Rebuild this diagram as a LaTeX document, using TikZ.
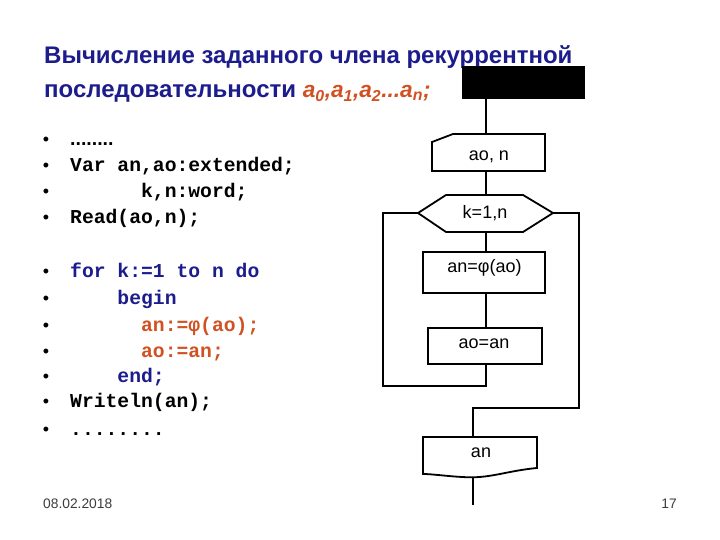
\documentclass[tikz,border=0pt]{standalone}
\usepackage{fontspec}
\setmainfont{Liberation Sans}
\newfontfamily\monof{Liberation Mono}
\definecolor{navy}{RGB}{28,28,140}
\definecolor{orng}{RGB}{208,82,34}
\definecolor{foot}{RGB}{60,60,60}
\begin{document}
\begin{tikzpicture}[x=1pt,y=-1pt,
  flow/.style={line width=1.8pt,draw=black,line join=miter},
  title/.style={anchor=base west,inner sep=0pt,font=\fontsize{24}{24}\selectfont\bfseries,text=navy},
  code/.style={anchor=base west,inner sep=0pt,font=\fontsize{19.7}{20}\monof\bfseries},
  bul/.style={anchor=base,inner sep=0pt,font=\fontsize{18}{18}\selectfont},
  lbl/.style={inner sep=0pt,font=\fontsize{18}{18}\selectfont},
  footer/.style={inner sep=0pt,font=\fontsize{13.8}{14}\selectfont,text=foot}]
\useasboundingbox (0,0) rectangle (720,540);
\fill[white] (0,0) rectangle (720,540);
% title
\node[title] (t1) at (44,63.5) {Вычисление заданного члена рекуррентной};
\node[title] (t2) at (44,97.5) {последовательности {\fontsize{22.7}{24}\selectfont\bfseries\itshape\color{orng}a\textsubscript{0},a\textsubscript{1},a\textsubscript{2}...a\textsubscript{n};}};
% code lines
\foreach \yy/\nm in {146/b1,172/b2,198/b3,223/b4,277/b5,304/b6,331/b7,357/b8,382/b9,407/b10,435/b11}
  \node[bul] (\nm) at (46,\yy) {•};
\node[anchor=base west,inner sep=0pt,font=\fontsize{19.5}{20}\selectfont\bfseries] (c1) at (70,146) {........};
\node[code] (c2) at (70,172) {Var an,ao:extended;};
\node[code] (c3) at (70,198) {\ \ \ \ \ \ k,n:word;};
\node[code] (c4) at (70,223) {Read(ao,n);};
\node[code,text=navy] (c5) at (70,277) {for k:=1 to n do};
\node[code,text=navy] (c6) at (70,304) {\ \ \ \ begin};
\node[code,text=orng] (c7) at (70,331) {\ \ \ \ \ \ an:=φ(ao);};
\node[code,text=orng] (c8) at (70,357) {\ \ \ \ \ \ ao:=an;};
\node[code,text=navy] (c9) at (70,382) {\ \ \ \ end;};
\node[code] (c10) at (70,407) {Writeln(an);};
\node[code] (c11) at (70,435) {........};
% flowchart shapes
\fill[black] (462,66) rectangle (585,99);
\coordinate (start) at (486,99);
\draw[flow] (432,142) -- (453,134) -- (545,134) -- (545,171) -- (432,171) -- cycle;
\node[lbl] (inp) at (489,157) {ao, n};
\coordinate (inpT) at (486,134);
\coordinate (inpB) at (486,171);
\draw[flow] (418,213) -- (446,195) -- (523,195) -- (553,213) -- (523,232) -- (446,232) -- cycle;
\node[lbl] (loop) at (485,213) {k=1,n};
\coordinate (hexT) at (486,195);
\coordinate (hexB) at (486,232);
\coordinate (hexL) at (418,213);
\coordinate (hexR) at (553,213);
\draw[flow] (423,252) rectangle (545,293);
\node[lbl] (calc) at (484.5,268) {an=φ(ao)};
\coordinate (calcT) at (486,252);
\coordinate (calcB) at (486,293);
\draw[flow] (428,328) rectangle (542,364);
\node[lbl] (asg) at (484,344) {ao=an};
\coordinate (asgT) at (486,328);
\coordinate (asgB) at (486,364);
\draw[flow] (423,437) -- (537,437) -- (537,468) .. controls (505,471) and (490,479) .. (462,477) .. controls (445,476) and (432,474) .. (423,474) -- cycle;
\node[lbl] (out) at (481,453) {an};
\coordinate (outT) at (473,437);
\coordinate (outB) at (473,477.5);
\coordinate (endpt) at (473,505);
% connectors
\draw[flow] (start) -- (inpT);
\draw[flow] (inpB) -- (hexT);
\draw[flow] (hexB) -- (calcT);
\draw[flow] (calcB) -- (asgT);
\draw[flow] (asgB) -- (486,386) -- (383,386) -- (383,213) -- (hexL);
\draw[flow] (hexR) -- (579,213) -- (579,408) -- (473,408) -- (outT);
\draw[flow] (outB) -- (endpt);
% footer
\node[footer,anchor=west] (date) at (43,504) {08.02.2018};
\node[footer,anchor=east] (page) at (677,504) {17};
\end{tikzpicture}
\end{document}
